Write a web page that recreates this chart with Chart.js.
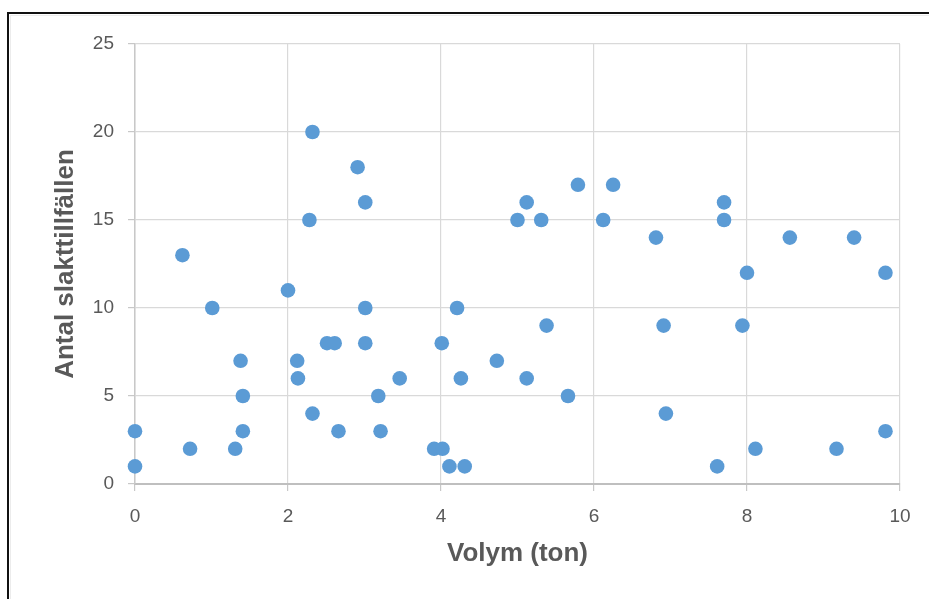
<!DOCTYPE html>
<html>
<head>
<meta charset="utf-8">
<script src="https://cdn.jsdelivr.net/npm/chart.js@4/dist/chart.umd.min.js"></script>
<style>
  html, body { margin: 0; padding: 0; background: #fff; overflow: hidden; }
  #wrap { position: relative; width: 929px; height: 599px; }
  #frame { position: absolute; left: 7px; top: 12px; width: 1000px; height: 700px;
           border-top: 2px solid #111; border-left: 2px solid #111; box-sizing: border-box; pointer-events: none; }
  #inner { position: absolute; left: 10px; top: 15px; width: 1000px; height: 700px;
           border-top: 1px solid #ececec; border-left: 1px solid #ececec; box-sizing: border-box; pointer-events: none; }
</style>
</head>
<body>
<div id="wrap">
  <canvas id="c" width="929" height="599"></canvas>
  <div id="inner"></div>
  <div id="frame"></div>
</div>
<script>
// Volym (ton) per point
const volym = [0, 0, 0.62, 0.72, 1.01, 1.31, 1.38, 1.41, 1.41, 2.0, 2.12, 2.13, 2.32, 2.28, 2.32,
  2.51, 2.61, 2.66, 2.91, 3.01, 3.01, 3.01, 3.18, 3.21, 3.46, 3.91, 4.02, 4.01, 4.11, 4.21, 4.26,
  4.31, 4.73, 5.0, 5.12, 5.12, 5.31, 5.38, 5.66, 5.79, 6.12, 6.25, 6.81, 6.91, 6.94, 7.61, 7.70,
  7.70, 7.94, 8.0, 8.11, 8.56, 9.17, 9.40, 9.81, 9.81];
// Antal slakttillfällen per point
const antal = [3, 1, 13, 2, 10, 2, 7, 5, 3, 11, 7, 6, 20, 15, 4,
  8, 8, 3, 18, 16, 10, 8, 5, 3, 6, 2, 2, 8, 1, 10, 6,
  1, 7, 15, 16, 6, 15, 9, 5, 17, 15, 17, 14, 9, 4, 1, 16,
  15, 9, 12, 2, 14, 2, 14, 12, 3];
const xTicks = [0, 2, 4, 6, 8, 10];
const yTicks = [0, 5, 10, 15, 20, 25];
const xTitle = 'Volym (ton)';
const yTitle = 'Antal slakttillfällen';

const points = volym.map((v, i) => ({ x: v, y: antal[i] }));

const tickFont = { family: "'Liberation Sans', Arial, sans-serif", size: 19 };
const titleFont = { family: "'Liberation Sans', Arial, sans-serif", size: 26, weight: 'bold' };
const gray = '#595959';

new Chart(document.getElementById('c'), {
  type: 'scatter',
  data: {
    datasets: [{
      data: points,
      backgroundColor: '#5B9BD5',
      borderWidth: 0,
      pointRadius: 7.3,
      pointHoverRadius: 7.3,
      clip: false
    }]
  },
  options: {
    responsive: false,
    animation: false,
    events: [],
    layout: { padding: { left: 0, top: 44, right: 29, bottom: 0 } },
    plugins: { legend: { display: false }, tooltip: { enabled: false } },
    scales: {
      x: {
        type: 'linear', min: 0, max: 10,
        afterBuildTicks: s => { s.ticks = xTicks.map(v => ({ value: v })); },
        afterFit: s => { s.height = 599 - 484; },
        grid: { color: '#d9d9d9', lineWidth: 1.2, tickLength: 7, tickColor: '#c8c8c8' },
        border: { color: '#bfbfbf', width: 2 },
        ticks: { color: gray, font: tickFont, padding: 14 },
        title: { display: true, text: xTitle, color: gray, font: titleFont, padding: { top: 0, bottom: 30 } }
      },
      y: {
        type: 'linear', min: 0, max: 25,
        afterBuildTicks: s => { s.ticks = yTicks.map(v => ({ value: v })); },
        afterFit: s => { s.width = 135; },
        grid: { color: '#d9d9d9', lineWidth: 1.2, tickLength: 7, tickColor: '#c8c8c8' },
        border: { color: '#c8c8c8', width: 1.5 },
        ticks: { color: gray, font: tickFont, padding: 14 },
        title: { display: true, text: yTitle, color: gray, font: titleFont, padding: { top: 50, bottom: 0 } }
      }
    }
  }
});
</script>
</body>
</html>
